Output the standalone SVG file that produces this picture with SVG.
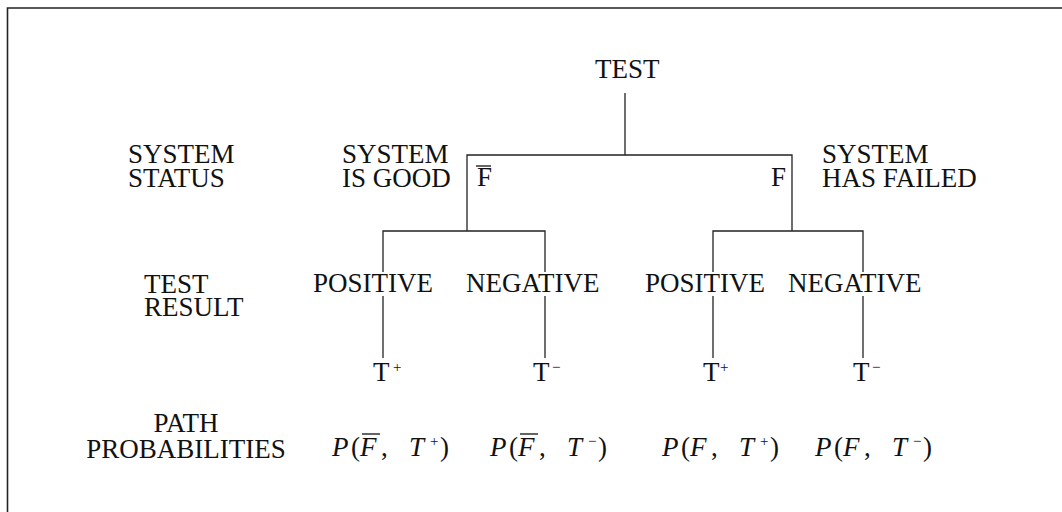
<svg xmlns="http://www.w3.org/2000/svg" width="1062" height="512" viewBox="0 0 1062 512">
<style>
  text { font-family: "Liberation Serif", "Times New Roman", serif; font-size: 27px; fill: #111; }
  .it { font-style: italic; }
  .sup { font-size: 15px; }
  .ln { stroke: #222; stroke-width: 1.3; fill: none; }
  .bar { stroke: #111; stroke-width: 1.3; }
  .frame { stroke: #222; stroke-width: 1.6; fill: none; }
</style>
<rect width="1062" height="512" fill="#fff"/>
<path class="frame" d="M7.5,512 V8 H1062"/>

<g id="connectors">
  <path class="ln" d="M625,93 V155"/>
  <path class="ln" d="M467,231 V155 H792 V231"/>
  <path class="ln" d="M383,272 V231 H545 V272"/>
  <path class="ln" d="M713,272 V231 H863 V272"/>
  <path class="ln" d="M383,296 V358"/>
  <path class="ln" d="M545,296 V358"/>
  <path class="ln" d="M713,296 V358"/>
  <path class="ln" d="M863,296 V358"/>
</g>

<g id="label-system-status">
  <text x="128" y="163">SYSTEM</text>
  <text x="128" y="187">STATUS</text>
</g>
<g id="label-test-result">
  <text x="144" y="293">TEST</text>
  <text x="144" y="316">RESULT</text>
</g>
<g id="label-path-probabilities">
  <text x="186" y="432" text-anchor="middle">PATH</text>
  <text x="186" y="458" text-anchor="middle">PROBABILITIES</text>
</g>

<g id="node-test">
  <text x="595" y="78">TEST</text>
</g>

<g id="node-good">
  <text x="342" y="163">SYSTEM</text>
  <text x="342" y="187">IS GOOD</text>
  <text x="477" y="186">F</text>
  <line class="bar" x1="476" y1="166" x2="491" y2="166"/>
</g>
<g id="node-failed">
  <text x="771" y="186">F</text>
  <text x="822" y="163">SYSTEM</text>
  <text x="822" y="187">HAS FAILED</text>
</g>

<g id="node-good-positive">
  <text x="313" y="292">POSITIVE</text>
  <text x="373" y="381">T</text><text class="sup" x="393" y="372">+</text>
</g>
<g id="node-good-negative">
  <text x="466" y="292">NEGATIVE</text>
  <text x="533" y="381">T</text><text class="sup" x="552" y="372">−</text>
</g>
<g id="node-failed-positive">
  <text x="645" y="292">POSITIVE</text>
  <text x="703" y="381">T</text><text class="sup" x="720" y="372">+</text>
</g>
<g id="node-failed-negative">
  <text x="788" y="292">NEGATIVE</text>
  <text x="853" y="381">T</text><text class="sup" x="872" y="372">−</text>
</g>

<g id="prob-good-positive">
  <text y="456"><tspan class="it" x="332">P</tspan><tspan x="351">(</tspan><tspan class="it" x="360">F</tspan><tspan x="381">,</tspan><tspan class="it" x="409">T</tspan><tspan class="sup" x="430" dy="-10">+</tspan><tspan x="440" dy="10">)</tspan></text>
  <line class="bar" x1="362" y1="434" x2="380" y2="434"/>
</g>
<g id="prob-good-negative">
  <text y="456"><tspan class="it" x="490">P</tspan><tspan x="509">(</tspan><tspan class="it" x="518">F</tspan><tspan x="539">,</tspan><tspan class="it" x="567">T</tspan><tspan class="sup" x="588" dy="-10">−</tspan><tspan x="598" dy="10">)</tspan></text>
  <line class="bar" x1="520" y1="434" x2="538" y2="434"/>
</g>
<g id="prob-failed-positive">
  <text y="456"><tspan class="it" x="662">P</tspan><tspan x="681">(</tspan><tspan class="it" x="690">F</tspan><tspan x="711">,</tspan><tspan class="it" x="739">T</tspan><tspan class="sup" x="760" dy="-10">+</tspan><tspan x="770" dy="10">)</tspan></text>
</g>
<g id="prob-failed-negative">
  <text y="456"><tspan class="it" x="815">P</tspan><tspan x="834">(</tspan><tspan class="it" x="843">F</tspan><tspan x="864">,</tspan><tspan class="it" x="892">T</tspan><tspan class="sup" x="913" dy="-10">−</tspan><tspan x="923" dy="10">)</tspan></text>
</g>
</svg>
